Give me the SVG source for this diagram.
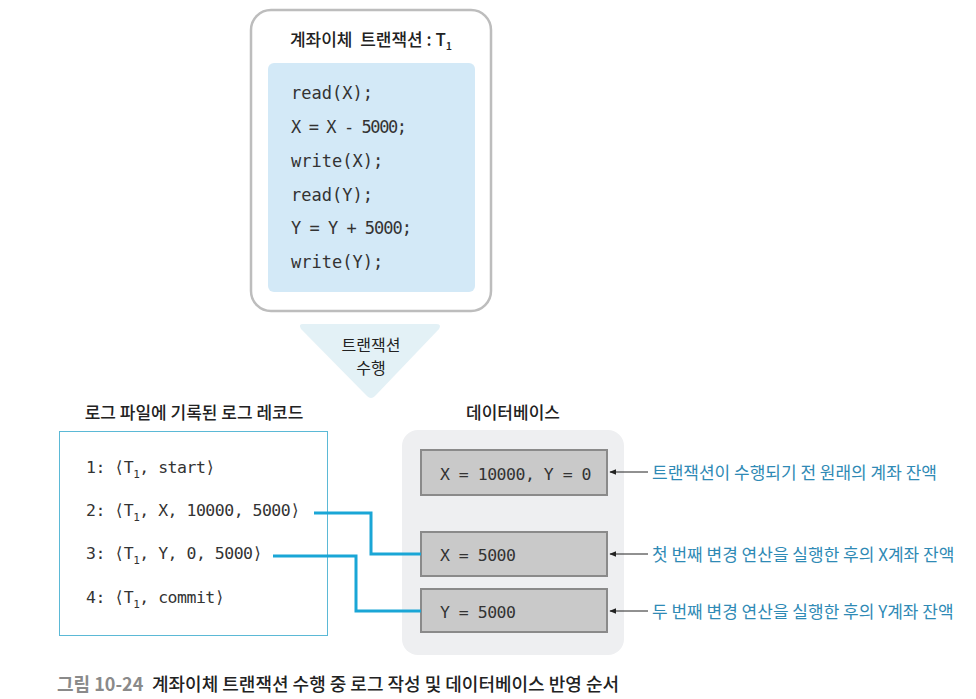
<svg xmlns="http://www.w3.org/2000/svg" width="976" height="699" viewBox="0 0 976 699">
<defs>
<marker id="ah" viewBox="0 0 10 10" refX="9" refY="5" markerWidth="7" markerHeight="7" markerUnits="userSpaceOnUse" orient="auto"><path d="M0,1 L10,5 L0,9 z" fill="#222"/></marker>
</defs>
<style>
.ko{font-family:"Noto Sans CJK KR","Noto Sans",sans-serif;}
.mono{font-family:"DejaVu Sans Mono","Liberation Mono",monospace;font-size:17px;fill:#333;}
.rec{font-family:"DejaVu Sans Mono","Liberation Mono",monospace;font-size:16.5px;letter-spacing:-0.5px;fill:#333;}
.hdr{font-family:"Noto Sans CJK KR",sans-serif;font-size:17px;font-weight:500;fill:#222;}
.note{font-family:"Noto Sans CJK KR",sans-serif;font-size:17px;fill:#2f8ab5;}
.dbbox{fill:#c9c9c9;stroke:#8a8a8a;stroke-width:2;}
.conn{fill:none;stroke:#1aa6d6;stroke-width:3;}
.arr{stroke:#222;stroke-width:1;marker-end:url(#ah);}
</style>
<rect width="976" height="699" fill="#fff"/>

<g id="transaction">
<rect x="251" y="10" width="240" height="301" rx="20" fill="#fff" stroke="#bdbdbd" stroke-width="2.5"/>
<text x="371" y="46" text-anchor="middle" class="hdr">계좌이체&#160; 트랜잭션 : T<tspan font-size="11" dy="4">1</tspan></text>
<rect x="268" y="63" width="207" height="229" rx="6" fill="#d3e9f7"/>
<text x="291" y="99" class="mono">read(X);</text>
<text x="291" y="133" class="mono" textLength="116" lengthAdjust="spacing">X = X - 5000;</text>
<text x="291" y="167" class="mono">write(X);</text>
<text x="291" y="201" class="mono">read(Y);</text>
<text x="291" y="234" class="mono" textLength="121" lengthAdjust="spacing">Y = Y + 5000;</text>
<text x="291" y="268" class="mono">write(Y);</text>
</g>

<g id="execute">
<path d="M303,324 L436,324 Q442,324 439,329 L375,396 Q371,400 367,396 L301,329 Q298,324 303,324 Z" fill="#e3f1f6"/>
<text x="371" y="351" text-anchor="middle" class="ko" font-size="16" fill="#222">트랜잭션</text>
<text x="371" y="374" text-anchor="middle" class="ko" font-size="16" fill="#222">수행</text>
</g>

<g id="log">
<text x="194" y="419" text-anchor="middle" class="hdr" font-size="18">로그 파일에 기록된 로그 레코드</text>
<rect x="59.5" y="431.5" width="268" height="204" fill="#fff" stroke="#5bb9d6" stroke-width="1"/>
<text x="86" y="473" class="rec">1: ⟨T<tspan font-size="11" dy="5">1</tspan><tspan dy="-5">, start⟩</tspan></text>
<text x="86" y="516" class="rec">2: ⟨T<tspan font-size="11" dy="5">1</tspan><tspan dy="-5">, X, 10000, 5000⟩</tspan></text>
<text x="86" y="559" class="rec">3: ⟨T<tspan font-size="11" dy="5">1</tspan><tspan dy="-5">, Y, 0, 5000⟩</tspan></text>
<text x="86" y="603" class="rec">4: ⟨T<tspan font-size="11" dy="5">1</tspan><tspan dy="-5">, commit⟩</tspan></text>
</g>

<g id="database">
<text x="513" y="419" text-anchor="middle" class="hdr">데이터베이스</text>
<rect x="402" y="430" width="222" height="225" rx="16" fill="#eeeff1"/>
<g id="db-initial">
<rect x="421" y="450" width="186" height="45" class="dbbox"/>
<text x="440" y="480" class="rec">X = 10000, Y = 0</text>
</g>
<g id="db-x">
<rect x="421" y="532" width="186" height="44" class="dbbox"/>
<text x="440" y="561" class="rec">X = 5000</text>
</g>
<g id="db-y">
<rect x="421" y="589" width="186" height="43" class="dbbox"/>
<text x="440" y="618" class="rec">Y = 5000</text>
</g>
</g>

<g id="connectors">
<polyline class="conn" points="314,513 371,513 371,554 421,554"/>
<polyline class="conn" points="273,556 356,556 356,611 421,611"/>
<line class="arr" x1="648" y1="472" x2="610" y2="472"/>
<line class="arr" x1="648" y1="554" x2="610" y2="554"/>
<line class="arr" x1="648" y1="611" x2="610" y2="611"/>
</g>

<g id="notes">
<text x="652" y="479" class="note">트랜잭션이 수행되기 전 원래의 계좌 잔액</text>
<text x="652" y="561" class="note">첫 번째 변경 연산을 실행한 후의 X계좌 잔액</text>
<text x="652" y="618" class="note">두 번째 변경 연산을 실행한 후의 Y계좌 잔액</text>
</g>

<g id="caption">
<text x="57" y="691" class="ko" font-size="18" font-weight="bold" fill="#8a8a8a">그림 10-24</text>
<text x="152" y="691" class="ko" font-size="18" font-weight="500" fill="#222">계좌이체 트랜잭션 수행 중 로그 작성 및 데이터베이스 반영 순서</text>
</g>
</svg>
